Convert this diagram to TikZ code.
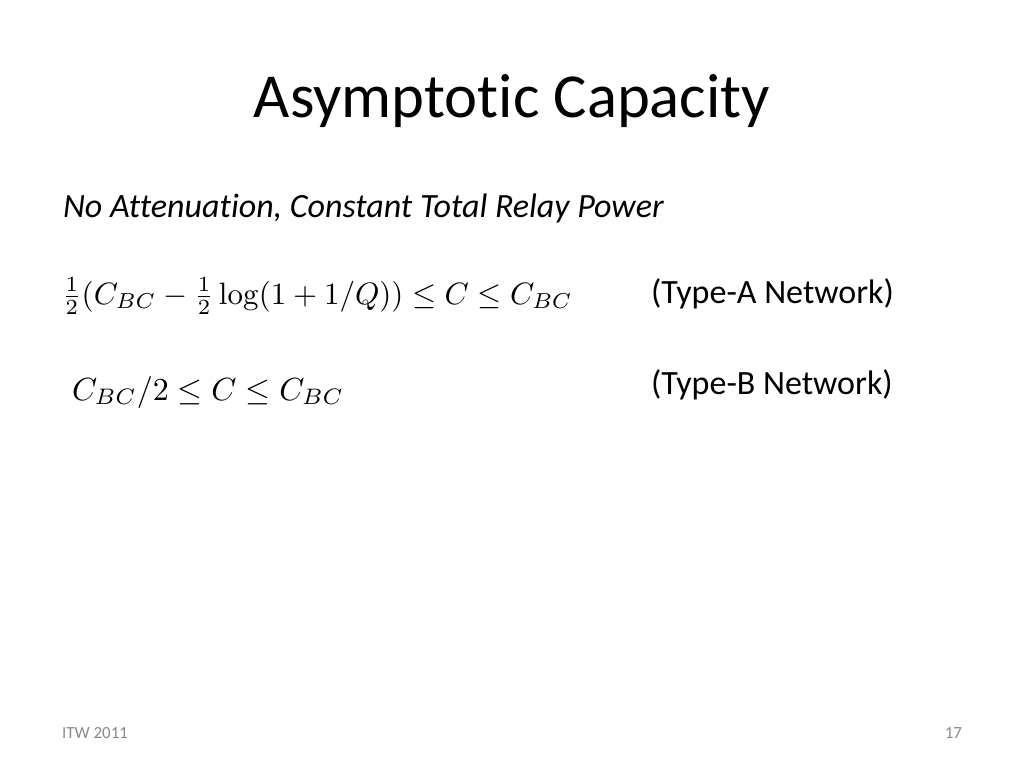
\documentclass[tikz,border=0pt]{standalone}
\usepackage{amsmath}
\usepackage{graphicx}
\usepackage[no-math]{fontspec}
\setmainfont{Carlito}[Ligatures={NoCommon}]
\begin{document}
\begin{tikzpicture}[x=1pt,y=-1pt,
  txt/.style={inner sep=0pt,outer sep=0pt},
  title/.style={txt,font=\fontsize{62.6}{70}\selectfont},
  sub/.style={txt,font=\fontsize{34}{40}\selectfont\itshape},
  lbl/.style={txt,font=\fontsize{34}{40}\selectfont},
  eq/.style={txt},
  foot/.style={txt,font=\fontsize{17}{20}\selectfont,text=black!46}]
\useasboundingbox[fill=white] (0,0) rectangle (1024,768);
\node[title,anchor=base] (t) at (512,117) {Asymptotic Capacity};
\node[sub,anchor=base west] (s) at (63,217) {No Attenuation, Constant Total Relay Power};
\node[eq,anchor=base west] (e1) at (62,304) {\scalebox{3.09}{$\frac{1}{2}(C_{BC}-\frac{1}{2}\log(1+1/Q))\leq C\leq C_{BC}$}};
\node[eq,anchor=base west] (e2) at (72,400) {\scalebox{3.2}{$C_{BC}/2\leq C\leq C_{BC}$}};
\node[lbl,anchor=base west] (a) at (651,303) {(Type-A Network)};
\node[lbl,anchor=base west] (b) at (651,394) {(Type-B Network)};
\node[foot,anchor=base west] (f1) at (62,738) {ITW 2011};
\node[foot,anchor=base east] (f2) at (962,738) {17};
\end{tikzpicture}
\end{document}
